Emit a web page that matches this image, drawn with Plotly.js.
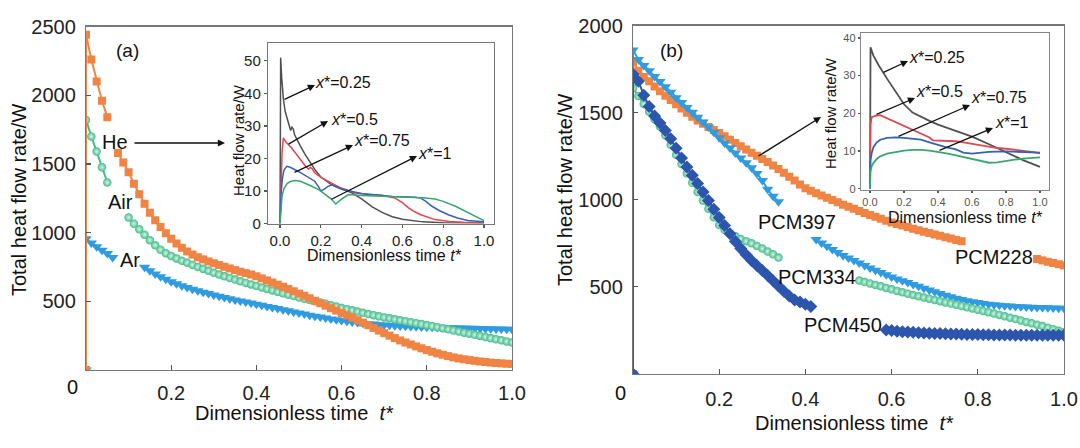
<!DOCTYPE html>
<html>
<head>
<meta charset="utf-8">
<script src="https://cdn.plot.ly/plotly-3.0.1.min.js"></script>
<style>html,body{margin:0;padding:0;background:#fff}#chart{width:1080px;height:448px}</style>
</head>
<body>
<div id="chart"></div>
<script>
// ---------- main-panel time grid (t*) ----------
const tMain = [0,0,0.0125,0.025,0.0375,0.05,0.0625,0.075,0.0875,0.1,0.1125,0.125,0.1375,0.15,0.1625,0.175,0.1875,0.2,0.2125,0.225,0.2375,0.25,0.2625,0.275,0.2875,0.3,0.3125,0.325,0.3375,0.35,0.3625,0.375,0.3875,0.4,0.4125,0.425,0.4375,0.45,0.4625,0.475,0.4875,0.5,0.5125,0.525,0.5375,0.55,0.5625,0.575,0.5875,0.6,0.6125,0.625,0.6375,0.65,0.6625,0.675,0.6875,0.7,0.7125,0.725,0.7375,0.75,0.7625,0.775,0.7875,0.8,0.8125,0.825,0.8375,0.85,0.8625,0.875,0.8875,0.9,0.9125,0.925,0.9375,0.95,0.9625,0.975,0.9875,1];

// ---------- panel (a): total heat flow rate / W ----------
const heA = [0,2440,2260,2100,1960,1840,null,1580,1510,1440,1355,1280,1210,1145,1090,1040,995,955,920,890,863,840,820,805,790,777,764,751,739,727,715,705,695,682,667,652,637,621,606,590,573,556,540,522,504,486,468,450,432,415,398,381,363,345,326,306,287,268,250,232,215,200,186,172,158,145,133,121,111,101,92,84,78,72,67,62,58,54,51,48,46,44];
const airA = [0,1820,1700,1590,1475,1365,null,null,null,1110,1065,1025,985,945,908,875,850,830,812,795,780,765,750,736,722,708,695,682,670,658,646,634,623,612,601,590,579,568,558,548,538,528,519,510,501,492,482,472,462,452,443,434,425,416,407,399,391,383,376,369,362,355,348,341,334,327,320,312,304,296,288,280,272,264,256,248,240,232,224,216,208,200];
const arA = [0,955,925,897,872,848,818,null,null,null,null,null,748,722,699,679,660,643,627,613,600,588,577,566,556,546,536,527,518,510,502,494,487,479,471,463,455,447,439,431,423,415,407,399,392,385,378,372,366,360,355,350,345,341,337,334,330,327,325,322,320,318,316,315,313,312,311,310,309,308,307,306,305,304,303,302,301,300,299,298,297,296];

// ---------- panel (b) ----------
const pcm228 = [0,1790,1740,1705,1680,1650,1622,1597,1572,1548,1524,1500,1476,1455,1436,1418,1400,1383,1364,1345,1326,1307,1288,1270,1252,1234,1216,1197,1177,1155,1132,1110,1088,1066,1052,1038,1024,1011,998,985,972,960,948,936,924,913,902,891,880,870,861,852,843,834,825,817,809,801,793,785,777,769,762,null,null,null,null,null,null,null,null,null,null,null,null,null,660,652,644,637,630,623];
const pcm397 = [0,1860,1805,1770,1740,1708,1678,1648,1617,1586,1558,1530,1502,1474,1446,1418,1388,1356,1325,1297,1268,1240,1212,1184,1150,1110,1060,1020,988,null,null,null,null,null,null,772,752,733,715,697,680,665,651,637,623,609,595,582,569,557,545,535,525,514,503,492,482,472,462,452,443,435,428,421,415,410,405,401,398,395,392,390,388,386,384,383,382,381,380,379,378,377];
const pcm334 = [0,1640,1595,1550,1505,1462,1420,1370,1315,1258,1205,1150,1097,1045,995,948,900,855,828,805,790,775,762,750,735,720,703,687,668,null,null,null,null,null,null,null,null,null,null,null,null,null,null,536,528,520,511,503,494,486,477,469,461,453,446,439,432,425,418,411,404,397,390,383,376,369,362,355,347,339,331,323,315,307,299,291,283,275,266,257,248,240];
const pcm450 = [0,1720,1680,1600,1535,1480,1440,1398,1350,1295,1240,1188,1140,1093,1045,995,946,898,852,805,760,720,685,652,623,594,565,535,505,475,447,425,413,400,388,null,null,null,null,null,null,null,null,null,null,null,null,null,252,249,246,243,241,239,237,235,234,233,232,231,230,229,228,227,226,226,225,225,224,224,224,224,223,223,223,223,223,223,222,222,222,222];

// ---------- inset (a): heat flow rate / W at x* ----------
const ia025_t = [0,0.003,0.008,0.016,0.025,0.035,0.045,0.052,0.058,0.064,0.072,0.085,0.1,0.125,0.15,0.175,0.2,0.25,0.3,0.35,0.4,0.45,0.5,0.55,0.6,0.65,0.7,0.8,0.9,1.0];
const ia025_y = [0,51,45,38.5,34.5,32,30.2,28.6,29.6,29.2,27.2,25.5,23.8,21,18.6,16.2,14.3,12,10.6,9.5,7.6,5.2,3.4,2.1,1.3,0.8,0.5,0.25,0.15,0.1];
const ia05_t = [0,0.005,0.01,0.016,0.03,0.057,0.08,0.106,0.125,0.14,0.148,0.158,0.17,0.2,0.237,0.3,0.37,0.433,0.5,0.564,0.6,0.63,0.66,0.69,0.76,0.83,0.9,1.0];
const ia05_y = [0,12,22,26.3,25,23.2,21.3,19.1,17.6,16.7,17.3,16.8,15.6,14.2,13,10.9,9.4,8.9,8.7,7.8,6.4,4.8,3.6,2.7,1.2,0.6,0.4,0.3];
const ia075_t = [0,0.005,0.012,0.02,0.033,0.05,0.09,0.13,0.17,0.19,0.2,0.215,0.235,0.255,0.28,0.335,0.4,0.45,0.5,0.55,0.6,0.66,0.69,0.715,0.745,0.78,0.825,0.87,0.92,1.0];
const ia075_y = [0,9,14,16.5,17.6,17.3,16,14.5,13,11.2,10,10.5,11.4,11.9,11.1,10.1,9.2,8.9,8.5,8.3,8.2,8.1,7.8,6.8,5.3,4.0,2.7,1.7,0.9,0.5];
const ia1_t = [0,0.004,0.01,0.02,0.035,0.05,0.074,0.1,0.12,0.15,0.19,0.22,0.25,0.273,0.3,0.335,0.4,0.5,0.6,0.7,0.76,0.8,0.86,0.91,0.956,1.0];
const ia1_y = [0,5,8.5,10.8,12.3,12.9,13.2,13,12.5,11.6,10.4,9.1,7.6,6,7.4,8.9,8.6,8.4,8.2,7.9,7.5,6.8,5.3,3.8,2.2,0.9];

// ---------- inset (b) ----------
const ib025_t = [0,0.003,0.02,0.05,0.1,0.15,0.2,0.25,0.3,0.35,0.4,0.5,0.6,0.7,0.8,0.9,1.0];
const ib025_y = [0,37.5,35.3,32.8,29.2,25.8,22.4,20.2,19,18,17,15.3,13.8,11.8,9.6,7.6,5.8];
const ib05_t = [0,0.003,0.01,0.03,0.06,0.1,0.14,0.2,0.25,0.3,0.35,0.37,0.4,0.45,0.5,0.55,0.6,0.65,0.7,0.75,0.8,0.85,0.9,0.95,1.0];
const ib05_y = [0,17,19,19.3,19.5,18.7,17.8,16.5,15.5,14.7,13.6,12.8,12.8,12.7,12.6,12.3,11.9,11.5,11.1,10.8,10.6,10.4,10.2,9.8,9.4];
const ib075_t = [0,0.003,0.01,0.02,0.04,0.06,0.1,0.15,0.2,0.25,0.3,0.35,0.4,0.45,0.5,0.55,0.6,0.65,0.7,0.8,0.9,1.0];
const ib075_y = [0,7.5,9.5,11,12.3,13,13.5,13.6,13.5,13.3,13,12.3,11.6,11,10.5,9.6,9.3,9.5,9.8,9.9,9.8,9.6];
const ib1_t = [0,0.002,0.01,0.02,0.04,0.06,0.1,0.15,0.2,0.25,0.3,0.35,0.4,0.45,0.5,0.55,0.6,0.65,0.7,0.75,0.8,0.85,0.9,0.95,1.0];
const ib1_y = [0,4.5,6,6.8,7.9,8.6,9.3,9.8,10.1,10.3,10.3,10.1,9.8,9.4,8.9,8.4,8,7.4,6.9,7,7.4,7.7,8,8.2,8.3];

// ---------- tick labels ----------
const mainXTicks = [0.2,0.4,0.6,0.8,1.0];
const mainXText = ['0.2','0.4','0.6','0.8','1.0'];
const aYTicks = [500,1000,1500,2000,2500];
const bYTicks = [500,1000,1500,2000];
const insetXTicks = [0,0.2,0.4,0.6,0.8,1.0];
const insetXText = ['0.0','0.2','0.4','0.6','0.8','1.0'];

// ---------- styling ----------
const FONT = 'Liberation Sans, Arial, Helvetica, sans-serif';
const C = {orange:'#ef8444', green:'#45bc8c', blue:'#2f9be0', navy:'#2c55ad',
           gray:'#505050', red:'#e2474f', iblue:'#3463b3', igreen:'#37a66f'};
const W = 1080, H = 448;

function mk(y, color, symbol, size, xa, ya, grad) {
  const m = {symbol: symbol, size: size, color: color, line: {width: 0}};
  if (grad) m.gradient = {type: 'radial', color: grad};
  return {x: tMain, y: y, type: 'scatter', mode: 'lines+markers', xaxis: xa, yaxis: ya,
          line: {color: color, width: 2}, marker: m, hoverinfo: 'skip'};
}
function ln(x, y, color, xa, ya, w) {
  return {x: x, y: y, type: 'scatter', mode: 'lines', xaxis: xa, yaxis: ya,
          line: {color: color, width: w || 1.5}, hoverinfo: 'skip'};
}

const traces = [
  mk(arA, C.blue, 'triangle-down', 10, 'x', 'y'),
  mk(airA, C.green, 'circle', 8.5, 'x', 'y', '#d6f5e6'),
  mk(heA, C.orange, 'square', 8, 'x', 'y'),
  ln(ia025_t, ia025_y, C.gray, 'x2', 'y2'),
  ln(ia05_t, ia05_y, C.red, 'x2', 'y2'),
  ln(ia075_t, ia075_y, C.iblue, 'x2', 'y2'),
  ln(ia1_t, ia1_y, C.igreen, 'x2', 'y2'),
  mk(pcm228, C.orange, 'square', 8, 'x3', 'y3'),
  mk(pcm397, C.blue, 'triangle-down', 10, 'x3', 'y3'),
  mk(pcm334, C.green, 'circle', 8.5, 'x3', 'y3', '#d6f5e6'),
  mk(pcm450, C.navy, 'diamond', 10, 'x3', 'y3'),
  ln(ib025_t, ib025_y, C.gray, 'x4', 'y4', 1.8),
  ln(ib05_t, ib05_y, C.red, 'x4', 'y4', 1.8),
  ln(ib075_t, ib075_y, C.iblue, 'x4', 'y4', 1.8),
  ln(ib1_t, ib1_y, C.igreen, 'x4', 'y4', 1.8)
];

function ax(domain, range, extra) {
  return Object.assign({domain: domain, range: range, showgrid: false, zeroline: false,
    showline: true, mirror: true, linecolor: '#777', linewidth: 1.2,
    ticks: 'inside', ticklen: 5, tickwidth: 1.2, tickcolor: '#555',
    tickfont: {family: FONT, size: 20, color: '#222'}, fixedrange: true}, extra);
}
function px(x) { return x / W; }
function py(y) { return 1 - y / H; }

const layout = {
  width: W, height: H, margin: {l: 0, r: 0, t: 0, b: 0},
  paper_bgcolor: '#fff', plot_bgcolor: '#fff', showlegend: false, hovermode: false,
  font: {family: FONT, color: '#222'},
  xaxis: ax([px(86), px(512)], [0, 1], {anchor: 'y', tickvals: mainXTicks, ticktext: mainXText, ticklabelstandoff: 5}),
  yaxis: ax([py(370), py(26.5)], [0, 2500], {anchor: 'x', tickvals: aYTicks, ticklabelstandoff: 5}),
  xaxis2: ax([px(268), px(494)], [-0.059, 1.049], {anchor: 'y2', tickvals: insetXTicks, ticktext: insetXText,
    ticks: 'outside', ticklen: 3, tickfont: {family: FONT, size: 15, color: '#222'}}),
  yaxis2: ax([py(223.5), py(43)], [0, 55.5], {anchor: 'x2', dtick: 10,
    ticks: 'outside', ticklen: 3, tickfont: {family: FONT, size: 15, color: '#222'}}),
  xaxis3: ax([px(633), px(1064)], [0, 1], {anchor: 'y3', tickvals: mainXTicks, ticktext: mainXText, ticklabelstandoff: 7}),
  yaxis3: ax([py(374), py(25.5)], [0, 2000], {anchor: 'x3', tickvals: bYTicks, ticklabelstandoff: 5}),
  xaxis4: ax([px(861), px(1049)], [-0.053, 1.053], {anchor: 'y4', tickvals: insetXTicks, ticktext: insetXText,
    ticks: 'outside', ticklen: 2, linecolor: '#888', tickfont: {family: FONT, size: 11, color: '#555'}}),
  yaxis4: ax([py(189.5), py(33)], [-0.2, 41.3], {anchor: 'x4', dtick: 10,
    ticks: 'outside', ticklen: 2, linecolor: '#888', tickfont: {family: FONT, size: 11, color: '#555'}}),
  annotations: []
};

function txt(x, y, text, size, extra) {
  layout.annotations.push(Object.assign({x: px(x), y: py(y), xref: 'paper', yref: 'paper',
    text: text, showarrow: false, xanchor: 'center', yanchor: 'middle',
    font: {family: FONT, size: size, color: '#111'}}, extra || {}));
}
function arrow(tx, ty, hx, hy) {
  layout.annotations.push({x: px(hx), y: py(hy), xref: 'paper', yref: 'paper', text: '',
    showarrow: true, ax: tx - hx, ay: ty - hy, axref: 'pixel', ayref: 'pixel',
    arrowhead: 2, arrowsize: 1.1, arrowwidth: 1.3, arrowcolor: '#111', standoff: 0});
}

// axis titles
txt(294, 413, 'Dimensionless time&nbsp; <i>t*</i>', 20);
txt(19, 200, 'Total heat flow rate/W', 20, {textangle: -90});
txt(854, 423, 'Dimensionless time&nbsp; <i>t*</i>', 20);
txt(565, 190, 'Total heat flow rate/W', 20, {textangle: -90});
txt(384, 255, 'Dimensionless time <i>t*</i>', 16);
txt(238, 140, 'Heat flow rate/W', 15, {textangle: -90});
txt(965, 218, 'Dimensionless time <i>t*</i>', 16);
txt(831, 113, 'Heat flow rate/W', 15, {textangle: -90});
// origin labels
txt(72, 387, '0', 20);
txt(620, 393, '0', 20);
// panel labels
txt(127, 51, '(a)', 19);
txt(671, 51, '(b)', 19);
txt(115, 142, 'He', 20);
txt(120, 202, 'Air', 20);
txt(130, 260, 'Ar', 20);
txt(797, 222, 'PCM397', 20);
txt(994, 257, 'PCM228', 20);
txt(817, 277, 'PCM334', 20);
txt(843, 325, 'PCM450', 20);
// inset labels
txt(343, 82, '<i>x</i>*=0.25', 16);
txt(354, 120, '<i>x</i>*=0.5', 16);
txt(382, 141, '<i>x</i>*=0.75', 16);
txt(435, 153, '<i>x</i>*=1', 16);
txt(937, 58, '<i>x</i>*=0.25', 16);
txt(939, 91, '<i>x</i>*=0.5', 16);
txt(999, 97, '<i>x</i>*=0.75', 16);
txt(1012, 123, '<i>x</i>*=1', 16);
// arrows
arrow(133, 143, 225, 143);
arrow(757, 157, 821, 117);
arrow(283, 100, 315, 85);
arrow(287, 145, 328, 121);
arrow(293, 173, 353, 145);
arrow(330, 200, 417, 156);
arrow(882, 73, 908, 61);
arrow(875, 115, 915, 98);
arrow(897, 137, 970, 105);
arrow(938, 151, 993, 128);

Plotly.newPlot('chart', traces, layout, {staticPlot: true, displayModeBar: false});
</script>
</body>
</html>
